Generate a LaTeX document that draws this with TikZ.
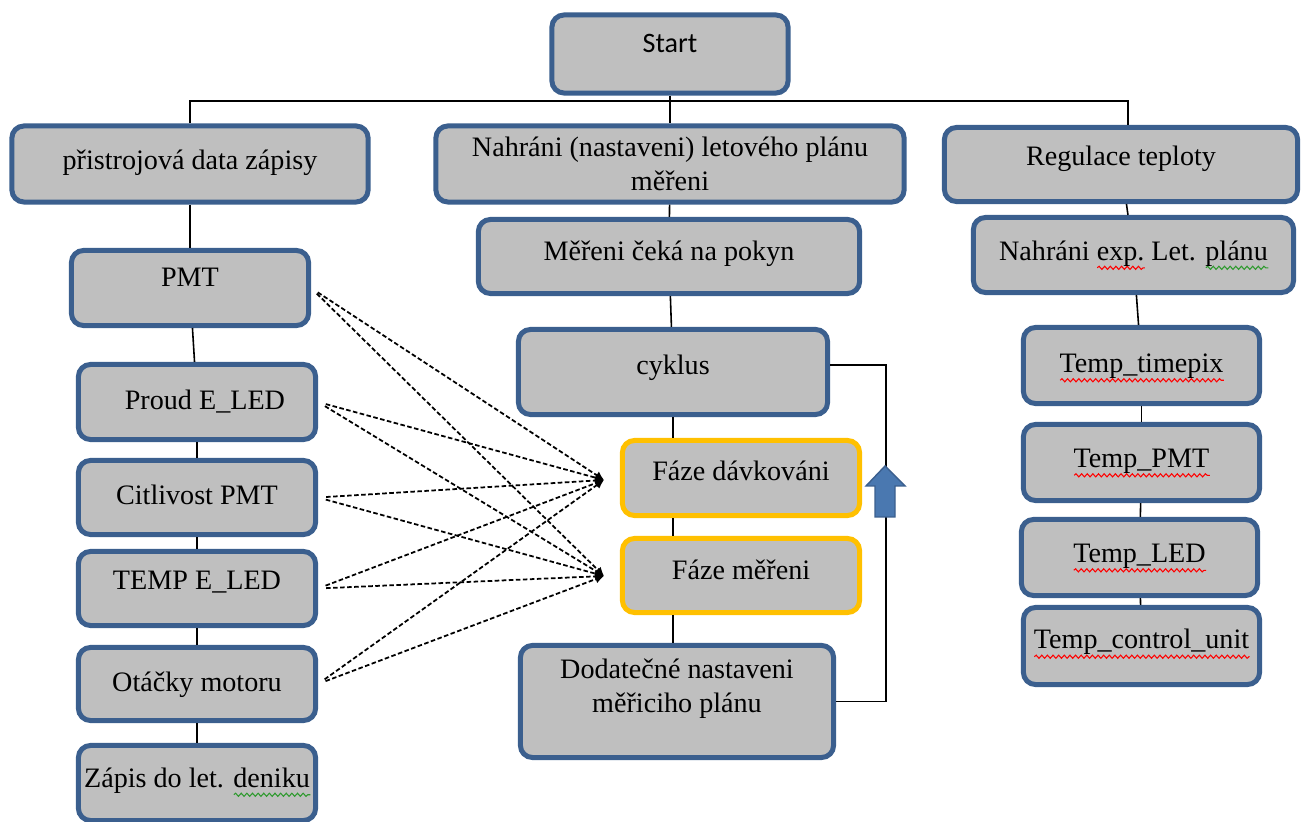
\documentclass[tikz,border=0pt]{standalone}
\usepackage{fontspec}
\setmainfont{Liberation Serif}
\newfontfamily\calfont{Carlito}
\usetikzlibrary{arrows.meta,decorations.pathmorphing}
\definecolor{boxblue}{HTML}{3B5F8E}
\definecolor{boxgray}{HTML}{BFBFBF}
\definecolor{boxgold}{HTML}{FFC000}
\definecolor{arrblue}{HTML}{4A78B0}
\definecolor{sqgreen}{HTML}{2E9A2E}
\newcommand\wavy[2]{\setbox0\hbox{#2}\leavevmode\rlap{\raisebox{-2.2pt}{\tikz[baseline,x=1cm,y=1cm]
  \draw[#1, sharp corners, solid, line width=0.3pt, decorate,
    decoration={snake, amplitude=0.45pt, segment length=1.6pt}] (0,0) -- (\wd0,0);}}\box0}
\tikzset{
  boxbase/.style={draw=boxblue, fill=boxgray, line width=0.05cm, rounded corners=0.12cm,
    align=center, inner sep=1pt, font=\fontsize{8}{9.8}\selectfont},
  box/.style={boxbase, text height=6pt, text depth=2pt},
  goldbox/.style={box, draw=boxgold},
  lift/.style={text depth=#1},
  link/.style={line width=0.45pt},
  dline/.style={line width=0.5pt, dash pattern=on 1.3pt off 0.7pt, shorten <=0.08cm,
    -{Latex[length=2.5pt,width=2.5pt]}}
}
\begin{document}
\begin{tikzpicture}[x=0.01cm, y=-0.01cm]
      \useasboundingbox (0,0) rectangle (1302,822);
      \draw
        (670,54) node[box, lift=7.1pt, minimum width=2.36cm, minimum height=0.78cm,
          font=\calfont\fontsize{8}{9.8}\selectfont] (start){Start}
        (190,164) node[box, lift=2.6pt, minimum width=3.56cm, minimum height=0.76cm] (data){přistrojová data zápisy}
        (670,164) node[boxbase, minimum width=4.68cm, minimum height=0.76cm] (plan){Nahráni (nastaveni) letového plánu\\měřeni}
        (1121,164.5) node[box, lift=5.4pt, minimum width=3.53cm, minimum height=0.74cm] (reg){Regulace teploty}
        (190,288) node[box, lift=6.6pt, minimum width=2.37cm, minimum height=0.75cm] (pmt){PMT}
        (197,402) node[box, minimum width=2.37cm, minimum height=0.75cm] (proud){\hspace*{4.5pt}Proud E\_LED}
        (197,497.5) node[box, minimum width=2.37cm, minimum height=0.74cm] (citl){Citlivost PMT}
        (197,588.5) node[box, lift=5.4pt, minimum width=2.37cm, minimum height=0.74cm] (tempe){TEMP E\_LED}
        (197,684) node[box, minimum width=2.37cm, minimum height=0.73cm] (otacky){Otáčky motoru}
        (197,783) node[box, lift=3.7pt, minimum width=2.37cm, minimum height=0.75cm] (zapis){Zápis do let. \wavy{sqgreen}{deniku}}
        (669,256.5) node[box, lift=3.7pt, minimum width=3.81cm, minimum height=0.74cm] (wait){Měřeni čeká na pokyn}
        (673,372) node[box, lift=4.8pt, minimum width=3.09cm, minimum height=0.85cm] (cyklus){cyklus}
        (741,478) node[goldbox, lift=4.8pt, minimum width=2.37cm, minimum height=0.75cm] (davk){Fáze dávkováni}
        (741,575.5) node[goldbox, lift=3.7pt, minimum width=2.37cm, minimum height=0.74cm] (mer){Fáze měřeni}
        (677,701.5) node[boxbase, text height=6.86pt, text depth=20pt, minimum width=3.13cm, minimum height=1.12cm] (dodat)
          {\begin{tabular}[t]{@{}c@{}}Dodatečné nastaveni\\měřiciho plánu\end{tabular}}
        (1133.5,255) node[box, lift=3.1pt, minimum width=3.20cm, minimum height=0.75cm] (exp){Nahráni \wavy{red}{exp.}\ Let. \wavy{sqgreen}{plánu}}
        (1141.5,365.5) node[box, minimum width=2.36cm, minimum height=0.76cm] (ttime){\wavy{red}{Temp\_timepix}}
        (1141.5,462.5) node[box, lift=3.1pt, minimum width=2.36cm, minimum height=0.76cm] (tpmt){\wavy{red}{Temp\_PMT}}
        (1139.5,557.5) node[box, lift=3.1pt, minimum width=2.36cm, minimum height=0.76cm] (tled){\wavy{red}{Temp\_LED}}
        (1141.5,646) node[box, lift=4.3pt, minimum width=2.36cm, minimum height=0.77cm] (tctrl){\wavy{red}{Temp\_control\_unit}};
      \coordinate (bus) at (670,101);
      \coordinate (loop) at (886,365);
      \coordinate (tgtd) at (604,480);
      \coordinate (tgtm) at (604,576);
      \begin{scope}[link]
        \draw (start) -- (bus);
        \draw (data) |- (bus) -| ([xshift=0.07cm]reg.north);
        \draw (bus) -- (plan);
        \draw (data) -- (pmt);
        \draw (pmt) -- (proud);
        \draw (proud) -- (citl);
        \draw (citl) -- (tempe);
        \draw (tempe) -- (otacky);
        \draw (otacky) -- (zapis);
        \draw (plan) -- (wait);
        \draw (wait) -- (cyklus);
        \draw (cyklus) -- (cyklus |- davk.north);
        \draw (davk.south -| cyklus) -- (mer.north -| cyklus);
        \draw (mer.south -| cyklus) -- (dodat.north -| cyklus);
        \draw (loop -| cyklus.east) -- (loop) |- (dodat.east);
        \draw (reg) -- (exp);
        \draw (exp) -- (ttime);
        \draw (ttime) -- (tpmt);
        \draw (tpmt) -- (tled);
        \draw (tled) -- (tctrl);
      \end{scope}
      \filldraw[fill=arrblue, draw=boxblue, line width=0.4pt]
        (875,517) -- (875,486) -- (866,486) -- (885,466) -- (905,486) -- (895,486) -- (895,517) -- cycle;
      \begin{scope}[dline]
        \foreach \n in {pmt,proud,citl,tempe,otacky} {
          \draw (\n.east) -- (tgtd);
          \draw (\n.east) -- (tgtm);
        }
      \end{scope}
    \end{tikzpicture}
\end{document}
